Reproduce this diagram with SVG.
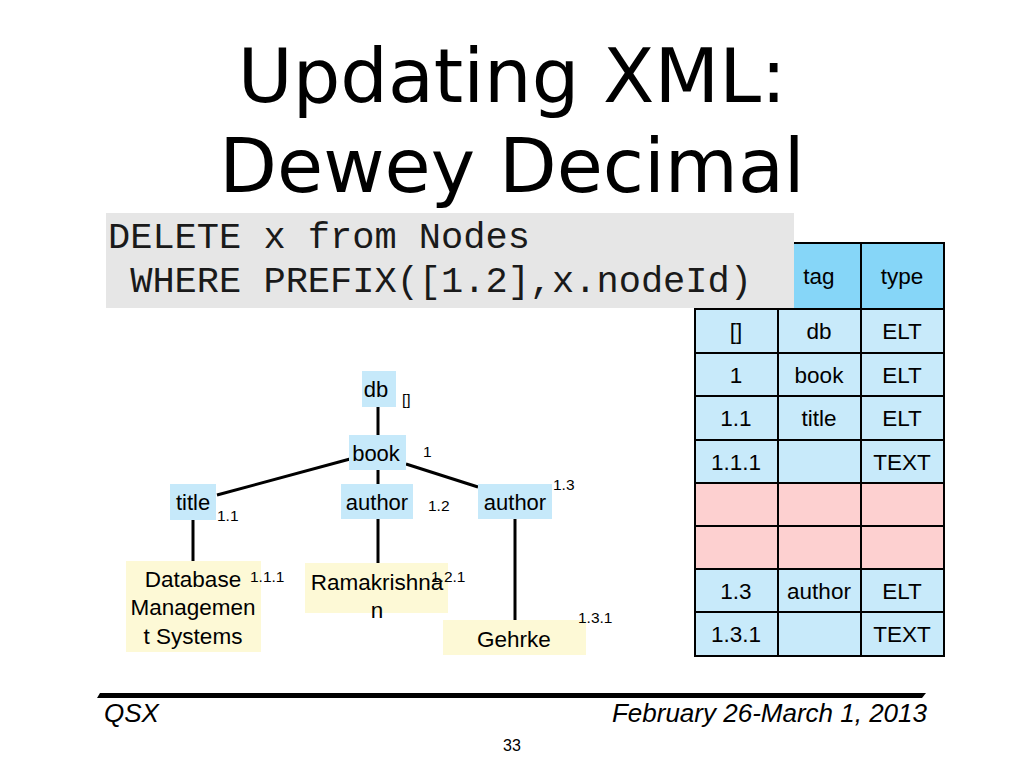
<svg xmlns="http://www.w3.org/2000/svg" width="1024" height="768" viewBox="0 0 1024 768">
<style>
.t{font-family:"DejaVu Sans","Liberation Sans",sans-serif;font-size:75px;fill:#000;text-anchor:middle}
.code{font-family:"Liberation Mono","Courier New",monospace;font-size:37px;fill:#1a1a1a}
.n{font-family:"Liberation Sans",Arial,sans-serif;font-size:22px;fill:#000;text-anchor:middle}
.y{font-family:"Liberation Sans",Arial,sans-serif;font-size:22.5px;fill:#000;text-anchor:middle}
.lbl{font-family:"Liberation Sans",Arial,sans-serif;font-size:15.5px;fill:#000}
.cell{font-family:"Liberation Sans",Arial,sans-serif;font-size:22.5px;fill:#000;text-anchor:middle}
.foot{font-family:"Liberation Sans",Arial,sans-serif;font-size:26px;font-style:italic;fill:#000}
.blue{fill:#c6e9fa}
.yel{fill:#fdf9d6}
.edge{stroke:#000;stroke-width:3;fill:none}
.grid{stroke:#000;stroke-width:2;fill:none}
</style>
<rect width="1024" height="768" fill="#fff"/>
<g id="title">
<text class="t" x="512" y="102">Updating XML:</text>
<text class="t" x="512" y="192">Dewey Decimal</text>
</g>
<g id="table">
<rect x="778" y="243" width="166" height="66" fill="#86d6f8"/>
<rect x="695" y="309" width="249" height="174" fill="#c8eafa"/>
<rect x="695" y="483" width="249" height="86" fill="#fdd0d0"/>
<rect x="695" y="569" width="249" height="87" fill="#c8eafa"/>
<path class="grid" d="M695 243V656H944V243H695M778 243V656M861 243V656M695 309H944M695 353H944M695 396H944M695 440H944M695 483H944M695 526H944M695 569H944M695 612H944"/>
<text class="cell" x="819" y="284">tag</text>
<text class="cell" x="902" y="284">type</text>
<text class="cell" x="736" y="339">[]</text><text class="cell" x="819" y="339">db</text><text class="cell" x="902" y="339">ELT</text>
<text class="cell" x="736" y="383">1</text><text class="cell" x="819" y="383">book</text><text class="cell" x="902" y="383">ELT</text>
<text class="cell" x="736" y="426">1.1</text><text class="cell" x="819" y="426">title</text><text class="cell" x="902" y="426">ELT</text>
<text class="cell" x="736" y="470">1.1.1</text><text class="cell" x="902" y="470">TEXT</text>
<text class="cell" x="736" y="599">1.3</text><text class="cell" x="819" y="599">author</text><text class="cell" x="902" y="599">ELT</text>
<text class="cell" x="736" y="642">1.3.1</text><text class="cell" x="902" y="642">TEXT</text>
</g>
<g id="query">
<rect x="106" y="213" width="688" height="95" fill="#e6e6e6"/>
<text class="code" x="108" y="248" xml:space="preserve">DELETE x from Nodes</text>
<text class="code" x="108" y="292" xml:space="preserve"> WHERE PREFIX([1.2],x.nodeId)</text>
</g>
<g id="connectors">
<line class="edge" x1="378" y1="407" x2="378" y2="435"/>
<line class="edge" x1="350" y1="459" x2="217" y2="495"/>
<line class="edge" x1="378" y1="470" x2="378" y2="484"/>
<line class="edge" x1="406" y1="464" x2="478" y2="487"/>
<line class="edge" x1="193" y1="520" x2="193" y2="561"/>
<line class="edge" x1="378" y1="518" x2="378" y2="578"/>
<line class="edge" x1="515" y1="518" x2="515" y2="620"/>
</g>
<g id="db"><rect class="blue" x="362" y="371" width="34" height="36"/><text class="n" x="376" y="397">db</text><text class="lbl" x="402" y="405">[]</text></g>
<g id="book"><rect class="blue" x="349" y="435" width="57" height="35"/><text class="n" x="376" y="461">book</text><text class="lbl" x="423" y="457">1</text></g>
<g id="title11"><rect class="blue" x="170" y="484" width="46" height="36"/><text class="n" x="193" y="510">title</text><text class="lbl" x="217" y="521">1.1</text></g>
<g id="author12"><rect class="blue" x="341" y="484" width="72" height="35"/><text class="n" x="377" y="510">author</text><text class="lbl" x="428" y="511">1.2</text></g>
<g id="author13"><rect class="blue" x="478" y="484" width="74" height="35"/><text class="n" x="515" y="510">author</text><text class="lbl" x="553" y="490">1.3</text></g>
<g id="text111"><rect class="yel" x="126" y="561" width="135" height="91"/><text class="y" x="193" y="587">Database</text><text class="y" x="193" y="615">Managemen</text><text class="y" x="193" y="644">t Systems</text><text class="lbl" x="250" y="582">1.1.1</text></g>
<g id="text121"><rect class="yel" x="305" y="563" width="143" height="50"/><text class="y" x="377" y="590">Ramakrishna</text><text class="y" x="377" y="618">n</text><text class="lbl" x="431" y="582">1.2.1</text></g>
<g id="text131"><rect class="yel" x="443" y="620" width="143" height="35"/><text class="y" x="514" y="647">Gehrke</text><text class="lbl" x="578" y="623">1.3.1</text></g>
<g id="footer">
<polygon points="100,693 926,693 922,698 97,698" fill="#000"/>
<text class="foot" x="104" y="722">QSX</text>
<text class="foot" x="927" y="722" text-anchor="end">February 26-March 1, 2013</text>
<text x="512" y="751" font-family="Liberation Sans,Arial,sans-serif" font-size="16" text-anchor="middle">33</text>
</g>
</svg>
